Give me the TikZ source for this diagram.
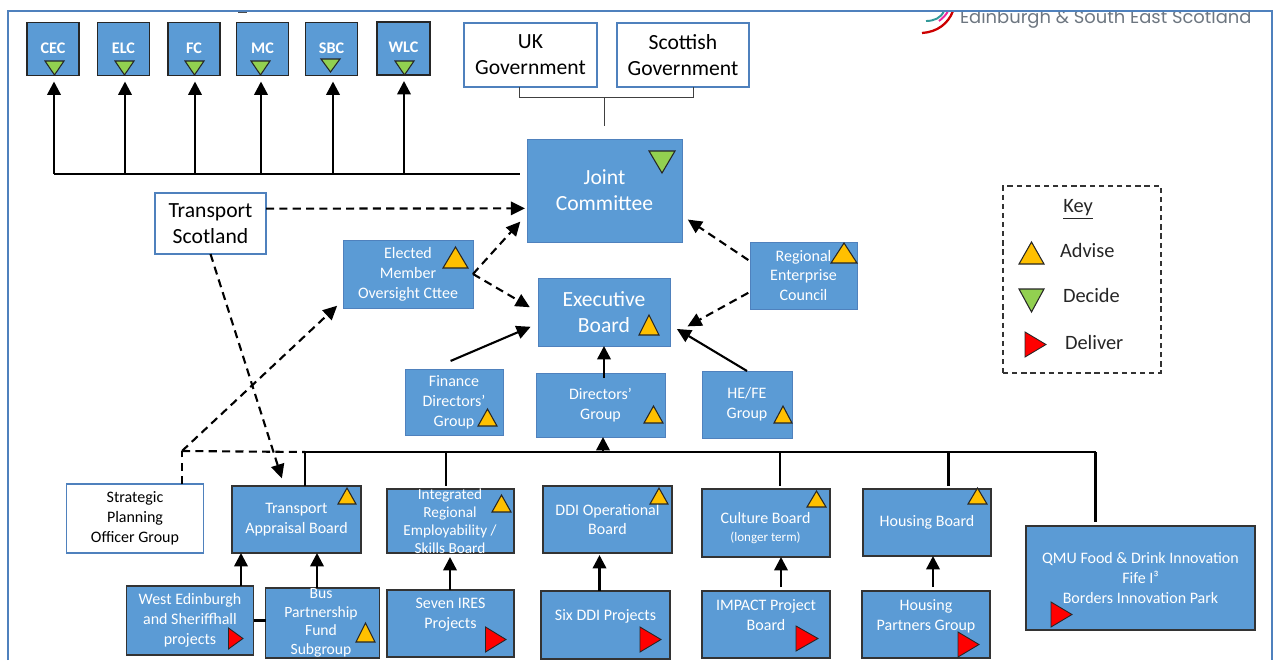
\documentclass[tikz,border=0pt]{standalone}
\usepackage{fontspec}
\setmainfont{Carlito}
\newfontfamily\logofont{Poppins}
\usetikzlibrary{arrows.meta}
\definecolor{panelblue}{HTML}{5B9BD5}
\definecolor{edgeblue}{HTML}{4F81BD}
\definecolor{adviseamber}{HTML}{FFC000}
\definecolor{decidegreen}{HTML}{92D050}
\definecolor{logogrey}{HTML}{6D7680}
\tikzset{
    every node/.style={align=center,inner sep=0pt,outer sep=0pt,},
    wh/.style 2 args={minimum width=#1*0.02cm,minimum height=#2*0.02cm,},
    bigtext/.style={font=\fontsize{12.3}{14.8}\selectfont,},
    midtext/.style={font=\fontsize{9.1}{11.3}\selectfont,},
    council/.style={draw=black!85,line width=0.6pt,fill=panelblue,text=white,font=\fontsize{9.2}{10}\selectfont\bfseries,},
    board/.style={draw=black!80,line width=0.6pt,fill=panelblue,text=white,midtext,},
    group/.style={draw=edgeblue,line width=0.5pt,fill=panelblue,text=white,midtext,},
    outside/.style={draw=edgeblue,line width=0.6pt,fill=white,text=black,},
    boxtext/.style={text=white,midtext,},
    keytext/.style={anchor=west,font=\fontsize{11.6}{14}\selectfont,text=black!85,},
    flow/.style={line width=1.4pt,-{Triangle[length=7.6pt,width=7.6pt]},},
    trunk/.style={line width=1.4pt,},
    thinlink/.style={line width=0.55pt,draw=black!75,},
    maybe/.style={line width=1.2pt,dash pattern=on 4.6pt off 3pt,-{Triangle[length=8pt,width=7.6pt]},},
    advise/.style={draw=black!85,line width=0.6pt,fill=adviseamber,line join=miter,},
    decide/.style={draw=black!85,line width=0.6pt,fill=decidegreen,line join=miter,},
    deliver/.style={draw=black!85,line width=0.5pt,fill=red,line join=miter,},
}
\newcommand{\upmark}[4]{\draw[advise] (#1,#4) -- (#2,#4) -- ({(#1+#2)/2},#3) -- cycle;}
\newcommand{\downmark}[4]{\draw[decide] (#1,#3) -- (#2,#3) -- ({(#1+#2)/2},#4) -- cycle;}
\newcommand{\sidemark}[4]{\draw[deliver] (#1,#3) -- (#2,{(#3+#4)/2}) -- (#1,#4) -- cycle;}

\begin{document}
\begin{tikzpicture}[x=0.02cm,y=-0.02cm]
    \useasboundingbox (0,0) rectangle (1274,660);

    \begin{scope}
        \clip (900,11) rectangle (1274,60);
        \node[anchor=base west,text=logogrey,font=\logofont\fontsize{10.2}{12}\selectfont] (logotext) at (960,23) {Edinburgh \& South East Scotland};
        \draw[line width=1.3pt,color=red!80!black] (922,33) .. controls (937,32) and (948,24) .. (953,11);
        \draw[line width=1.1pt,color=teal!80] (926,21) .. controls (934,21) and (941,18) .. (944,11);
        \draw[line width=1.1pt,color=magenta!85] (939,21) .. controls (943,18) and (946,15) .. (948,11);
    \end{scope}
    \draw[line width=0.8pt,color=black!70] (238,12.5) -- (247,12.5);
    \draw[line width=1.1pt,color=edgeblue] (8,660) -- (8,11) -- (1272,11) -- (1272,660);

    \foreach \name/\cx/\bw/\cy/\tapx in {CEC/53/52/49/54,ELC/123.5/52/49/125,FC/194/52/49/195,MC/262.5/52/49/261,SBC/331.5/52/49/333,WLC/403.5/53/48.5/404}{
        \node[council,wh={\bw}{53}] (\name) at (\cx,\cy) {\raisebox{1pt}{\name}};
        \coordinate (tap\name) at (\tapx,174);
        \draw[flow,shorten >=0.12cm] (tap\name) -- (tap\name |- \name.south);
    }

    \node[outside,bigtext,wh={133}{64}] (ukgov) at (530.5,55) {UK\\Government};
    \node[outside,bigtext,wh={132}{64}] (scotgov) at (683,55) {Scottish\\Government};
    \node[group,bigtext,wh={155}{103}] (joint) at (604.5,190.5) {Joint\\Committee};
    \node[outside,bigtext,wh={111}{61}] (tscot) at (210.5,223.5) {Transport\\Scotland};
    \node[group,wh={130}{68}] (elected) at (408,274) {Elected\\Member\\Oversight Cttee};
    \node[group,bigtext,wh={132}{68}] (exec) at (604,312) {Executive\\Board};
    \node[group,wh={107}{67}] (regional) at (803.5,275.5) {Regional\\Enterprise\\Council};
    \node[group,wh={98}{66}] (finance) at (454,402) {Finance\\Directors’\\Group};
    \node[group,wh={129}{64}] (directors) at (600.5,405) {Directors’\\Group};
    \node[group,wh={90}{67}] (hefe) at (747,404.5) {HE/FE\\Group};

    \node[outside,text=black,midtext,wh={137}{69}] (strategic) at (135,518.5) {Strategic\\Planning\\Officer Group};
    \node[board,wh={129}{67}] (transport) at (296.5,519.5) {Transport\\Appraisal Board};
    \node[board,wh={127}{64}] (integrated) at (450.5,521) {};
    \node[boxtext,font=\fontsize{8.7}{10.3}\selectfont] (integratedtext) at (450,521) {Integrated\\Regional\\Employability /\\Skills Board};
    \node[board,wh={129}{67}] (ddi) at (607.5,519.5) {DDI Operational\\Board};
    \node[board,wh={128}{68}] (culture) at (766,523) {};
    \node[boxtext] (culturetext) at (765.5,528) {Culture Board\\[-1pt]{\fontsize{7.4}{9}\selectfont(longer term)}};
    \node[board,wh={128}{67}] (housing) at (927,522.5) {Housing Board};
    \node[board,wh={229}{104}] (qmu) at (1140.5,578) {QMU Food \& Drink Innovation\\Fife I³\\Borders Innovation Park};

    \node[board,wh={127}{69}] (west) at (190,620.5) {West Edinburgh\\and Sheriffhall\\projects};
    \node[board,wh={114}{70}] (buspf) at (322.5,623) {};
    \node[boxtext,font=\fontsize{8.9}{10.6}\selectfont] (buspftext) at (321,623) {Bus\\Partnership\\Fund\\Subgroup};
    \node[board,wh={127}{67}] (ires) at (450.5,623.5) {Seven IRES\\Projects\\\mbox{}};
    \node[board,wh={129}{68}] (sixddi) at (605.5,625) {Six DDI Projects\\\mbox{}};
    \node[board,wh={128}{67}] (impact) at (766,624.5) {IMPACT Project\\Board\\\mbox{}};
    \node[board,wh={128}{67}] (partners) at (926,624.5) {Housing\\Partners Group\\\mbox{}};

    \draw[maybe,shorten >=0.04cm] (tscot.15.6) -- (joint.193.5);
    \draw[maybe,shorten >=0.16cm] (tscot.south) -- (transport.110);
    \draw[maybe,shorten >=0.2cm] (elected.east) -- (joint.197);
    \draw[maybe,shorten >=0.19cm] (elected.east) -- (exec.west);
    \draw[maybe,shorten <=0.04cm,shorten >=0.14cm] (regional.165) -- (joint.-18);
    \draw[maybe,shorten <=0.04cm,shorten >=0.4cm] (regional.197) -- (exec.-20);

    \coordinate (corner) at (182,451);
    \coordinate (busstart) at (305,452);
    \coordinate (busend) at (1095.5,452);
    \coordinate (busdirectors) at (603,452);
    \draw[maybe,-] (corner |- strategic.north) -- (corner);
    \draw[maybe,shorten >=0.16cm] (corner) -- (elected.202.6);
    \draw[maybe,-] (corner) -- (busstart);
    \draw[trunk] (busstart) -- (busend);

    \draw[trunk] (tapCEC) -- ([xshift=-0.14cm]joint.west |- tapCEC);
    \coordinate (govleft) at (519,97);
    \coordinate (govright) at (693.5,97);
    \draw[thinlink] (ukgov.south -| govleft) -- (govleft) -- (govright) -- (scotgov.south -| govright);
    \draw[thinlink,shorten >=0.26cm] (joint.north |- govleft) -- (joint.north);

    \draw[line width=1.2pt,-{Triangle[length=8pt,width=7.6pt]},shorten <=0.41cm,shorten >=0.16cm] (finance.124) -- (exec.190);
    \draw[flow,shorten <=-0.1cm] (exec.south |- directors.north) -- (exec.south);
    \draw[line width=1.2pt,-{Triangle[length=8pt,width=7.6pt]},shorten >=0.16cm] (hefe.north) -- (exec.-11);
    \draw[flow] (busdirectors) -- (busdirectors |- directors.south);

    \foreach \dropx/\name/\gap in {305/transport/0,446/integrated/0.06,780/culture/0.06,948.5/housing/0.06,1095.5/qmu/0.08}{
        \draw[trunk,shorten >=\gap cm] (\dropx,452) -- (\dropx,452 |- \name.north);
    }

    \draw[flow] (241,586) -- (241,586 |- transport.south);
    \draw[flow] (317,588) -- (317,588 |- transport.south);
    \draw[flow,shorten >=0.08cm] (450,590) -- (450,590 |- integrated.south);
    \draw[flow,shorten >=0.04cm] (599.5,591) -- (599.5,591 |- ddi.south);
    \draw[flow] (781,587) -- (781,587 |- culture.south);
    \draw[flow] (933,587) -- (933,587 |- housing.south);
    \draw[trunk] (west.east |- 0,620.5) -- (buspf.west |- 0,620.5);

    \foreach \lx/\rx/\ty/\by in {45/64/61/75,115/134/61/75,185/204/61/75,251/270/61/75,321/340/59/72,395/414/61/75}{
        \downmark{\lx}{\rx}{\ty}{\by}
    }
    \downmark{649}{675}{151}{173}

    \foreach \lx/\rx/\ty/\by in {443/468/247/268,639/659/315/335,831/857/243/263,478/497/409/426,644/663/406/423,774/792/406/423,338/356/488/504,492/511/495/512,650/668/488/504,807/826/491/507,968/987/488/504,356/375/623/642}{
        \upmark{\lx}{\rx}{\ty}{\by}
    }

    \foreach \lx/\rx/\ty/\by in {228.5/243/628/649,485.5/506/627/652,640/661/627/652,796/818/626/651,958/979/632/657,1051/1072/602/627}{
        \sidemark{\lx}{\rx}{\ty}{\by}
    }

    \node[draw=black!80,line width=0.8pt,dash pattern=on 3pt off 2.2pt,wh={158}{187}] (keybox) at (1082,279.5) {};
    \node[font=\fontsize{11.6}{14}\selectfont,text=black!85] (keytitle) at (1078,209) {\underline{Key}};
    \upmark{1019}{1044}{242}{264}
    \node[keytext] (advisekey) at (1060,250) {Advise};
    \downmark{1019}{1044}{289}{312}
    \node[keytext] (decidekey) at (1063,295) {Decide};
    \sidemark{1025}{1046}{332}{357}
    \node[keytext] (deliverkey) at (1065,342) {Deliver};
\end{tikzpicture}
\end{document}
